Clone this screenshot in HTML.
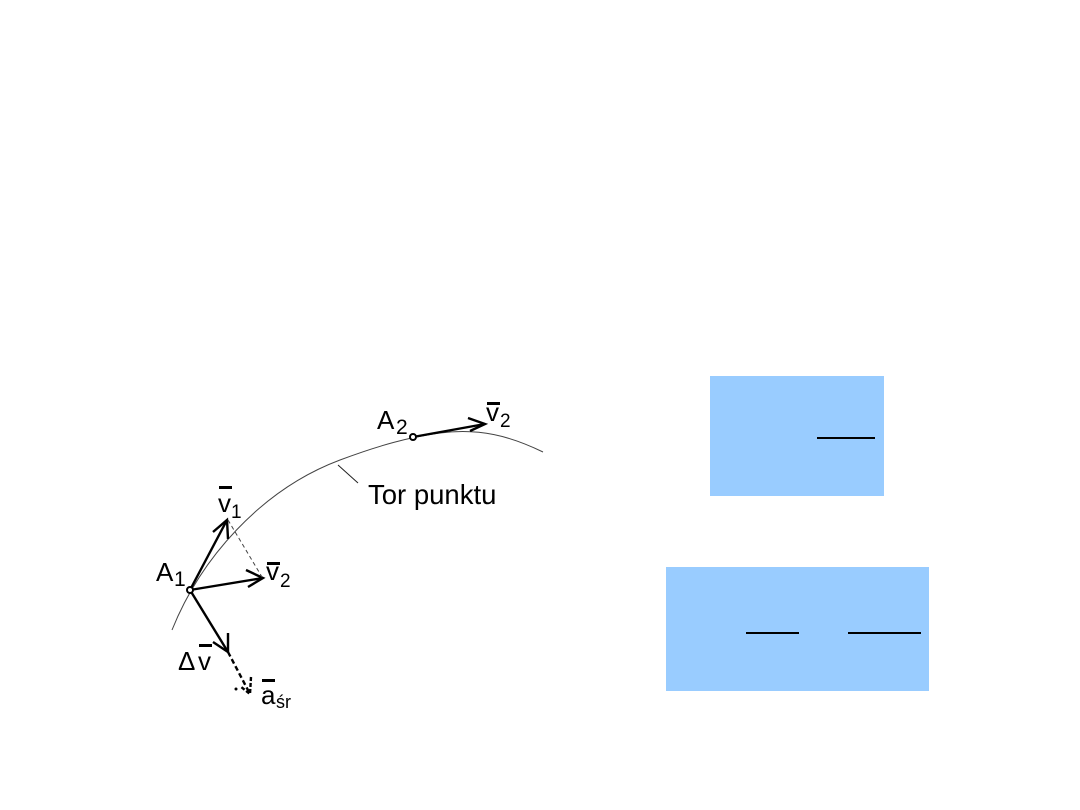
<!DOCTYPE html>
<html><head><meta charset="utf-8"><style>
body{margin:0;background:#fff;}
svg{display:block;font-family:"Liberation Sans",sans-serif;}
</style></head><body>
<svg width="1080" height="810" viewBox="0 0 1080 810">
<rect x="710" y="376" width="174" height="120" fill="#99ccff"/>
<line x1="817" y1="438" x2="875" y2="438" stroke="#000" stroke-width="2"/>
<rect x="666" y="567" width="263" height="124" fill="#99ccff"/>
<line x1="746" y1="633" x2="799" y2="633" stroke="#000" stroke-width="2"/>
<line x1="848" y1="633" x2="921" y2="633" stroke="#000" stroke-width="2"/>

<path d="M172,630 C200,560 260,490 340,460 C380,445 410,437 440,433 C480,428 510,436 543,452" fill="none" stroke="#444" stroke-width="1"/>
<line x1="338" y1="465" x2="358" y2="483" stroke="#222" stroke-width="1"/>
<g stroke="#000" stroke-width="2.4" fill="none">
<line x1="190" y1="590" x2="227" y2="520"/>
<polyline points="213,532 227,520 228,539"/>
<line x1="190" y1="590" x2="263" y2="578"/>
<polyline points="246,570 263,578 248,587"/>
<line x1="190" y1="590" x2="228" y2="652"/>
<polyline points="228,633 228,652 213,642"/>
<line x1="413" y1="437" x2="485" y2="424"/>
<polyline points="468,418 485,424 470,431"/>
<line x1="228" y1="652" x2="250" y2="694" stroke-dasharray="5,3"/>
<polyline points="251,677 250,694 240,686" stroke-dasharray="4,2"/>
</g>
<line x1="228" y1="520" x2="262" y2="577" stroke="#444" stroke-width="1" stroke-dasharray="4,3"/>
<circle cx="190" cy="590" r="3" fill="#fff" stroke="#000" stroke-width="2"/>
<circle cx="413" cy="437" r="3" fill="#fff" stroke="#000" stroke-width="2"/>
<circle cx="236" cy="689" r="1.5" fill="#000"/>

<g font-size="26" fill="#000">
<text x="156" y="581">A</text><text x="174" y="586" font-size="21">1</text>
<text x="377" y="429">A</text><text x="396" y="434" font-size="21">2</text>
<text x="218" y="512">v</text><text x="231" y="518" font-size="19">1</text>
<rect x="219" y="486" width="13" height="3"/>
<text x="266" y="580">v</text><text x="280" y="587" font-size="19">2</text>
<rect x="267" y="562" width="13" height="3"/>
<text x="486" y="421">v</text><text x="500" y="427" font-size="19">2</text>
<rect x="487" y="402" width="13" height="3"/>
<text x="178" y="670">Δ</text><text x="198" y="670">v</text>
<rect x="199" y="644" width="13" height="3"/>
<text x="261" y="704">a</text><text x="276" y="708" font-size="18">śr</text>
<rect x="262" y="679" width="13" height="3"/>
<text x="368" y="504" font-size="27.5">Tor punktu</text>
</g>
</svg>
</body></html>
